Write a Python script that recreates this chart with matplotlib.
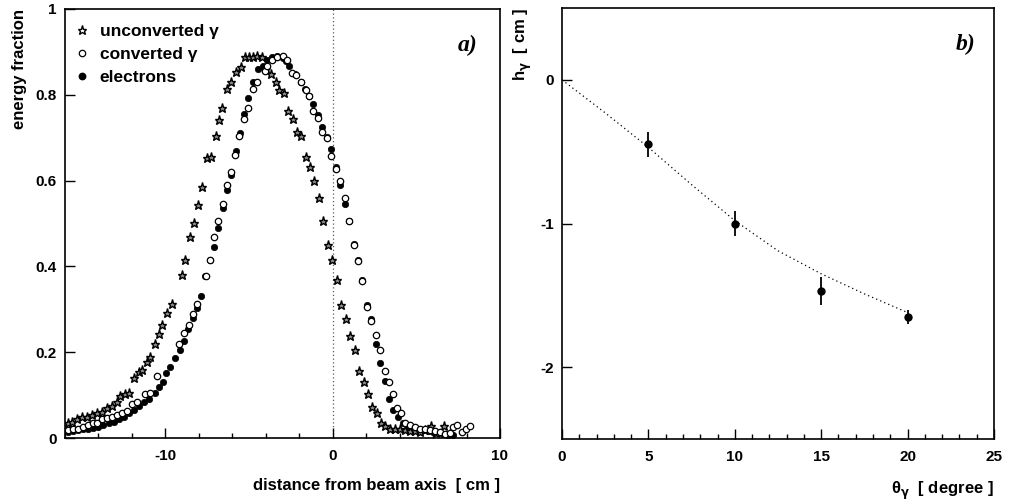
import matplotlib
matplotlib.use("Agg")
import matplotlib.pyplot as plt
from matplotlib.ticker import MultipleLocator, FixedLocator, FuncFormatter
from matplotlib.lines import Line2D

plt.rcParams['font.family'] = ['Liberation Sans', 'DejaVu Sans']
plt.rcParams['font.weight'] = 'bold'
plt.rcParams['axes.unicode_minus'] = False
plt.rcParams['mathtext.default'] = 'bf'

# ---------------- panel a) data ----------------
unconv_x = [-15.8, -15.6, -15.3, -15.0, -14.7, -14.4, -14.1, -13.8, -13.5, -13.2, -12.9, -12.7,
            -12.4, -12.2, -11.9, -11.6, -11.4, -11.1, -10.9, -10.65, -10.36, -10.2, -9.9, -9.6,
            -9.0, -8.8, -8.55, -8.3, -8.08, -7.8, -7.5, -7.3, -7.0, -6.8, -6.6, -6.3, -6.07,
            -5.8, -5.5, -5.24, -5.0, -4.74, -4.5, -4.24, -4.0, -3.7, -3.4, -3.2, -2.9, -2.7,
            -2.4, -2.13, -1.9, -1.6, -1.33, -1.11, -0.82, -0.58, -0.28, -0.04, 0.26, 0.52,
            0.77, 1.05, 1.31, 1.57, 1.85, 2.12, 2.36, 2.64, 2.9, 3.1, 3.4, 3.7, 4.0, 4.3,
            4.6, 4.9, 5.2, 5.5, 5.9, 6.2, 6.67, 7.0]
unconv_y = [0.035, 0.038, 0.044, 0.048, 0.050, 0.054, 0.058, 0.061, 0.071, 0.075, 0.085, 0.099,
            0.102, 0.106, 0.140, 0.155, 0.159, 0.178, 0.188, 0.219, 0.243, 0.264, 0.292, 0.312,
            0.380, 0.415, 0.468, 0.502, 0.543, 0.586, 0.652, 0.656, 0.703, 0.742, 0.769, 0.813, 0.831,
            0.854, 0.864, 0.888, 0.888, 0.888, 0.890, 0.888, 0.860, 0.849, 0.831, 0.812, 0.804, 0.763,
            0.744, 0.714, 0.704, 0.656, 0.631, 0.599, 0.559, 0.505, 0.450, 0.414, 0.368, 0.310,
            0.278, 0.238, 0.205, 0.157, 0.130, 0.103, 0.072, 0.059, 0.034, 0.028, 0.022, 0.020, 0.020, 0.018,
            0.017, 0.016, 0.015, 0.018, 0.028, 0.012, 0.028, 0.010]

conv_x = [-15.8, -15.5, -15.2, -14.9, -14.6, -14.3, -14.1, -13.8, -13.5, -13.2, -12.9, -12.6,
          -12.3, -12.0, -11.7, -11.2, -10.9, -10.5, -9.2, -8.87, -8.6, -8.35, -8.1, -7.56,
          -7.36, -7.08, -6.83, -6.57, -6.33, -6.07, -5.83, -5.58, -5.33, -5.04, -4.78, -4.5,
          -4.05, -3.95, -3.6, -3.3, -3.0, -2.75, -2.46, -2.2, -1.9, -1.6, -1.41, -1.17, -0.87,
          -0.61, -0.34, -0.12, 0.18, 0.42, 0.71, 0.97, 1.25, 1.51, 1.77, 2.04, 2.3, 2.56, 2.8,
          3.1, 3.35, 3.59, 3.85, 4.09, 4.35, 4.6, 4.9, 5.2, 5.5, 5.8, 6.1, 6.4, 6.7, 7.0, 7.2,
          7.4, 7.7, 7.96, 8.2]
conv_y = [0.018, 0.020, 0.022, 0.026, 0.030, 0.036, 0.036, 0.044, 0.046, 0.050, 0.054, 0.058,
          0.064, 0.079, 0.085, 0.102, 0.106, 0.145, 0.219, 0.244, 0.264, 0.290, 0.312, 0.378,
          0.415, 0.468, 0.505, 0.546, 0.589, 0.620, 0.660, 0.703, 0.743, 0.769, 0.813, 0.829,
          0.855, 0.867, 0.882, 0.888, 0.890, 0.882, 0.851, 0.845, 0.830, 0.812, 0.798, 0.763, 0.746,
          0.714, 0.700, 0.658, 0.628, 0.599, 0.559, 0.505, 0.450, 0.412, 0.366, 0.305, 0.272, 0.240, 0.205,
          0.157, 0.131, 0.103, 0.071, 0.058, 0.036, 0.030, 0.025, 0.022, 0.020, 0.018, 0.016, 0.015, 0.010,
          0.012, 0.025, 0.030, 0.015, 0.020, 0.028]

elec_x = [-15.8, -15.5, -15.2, -14.9, -14.6, -14.3, -14.0, -13.7, -13.4, -13.1, -12.8, -12.5,
          -12.2, -11.9, -11.6, -11.3, -11.0, -10.65, -10.36, -10.15, -9.94, -9.7, -9.4, -9.1,
          -8.87, -8.63, -8.35, -8.1, -7.88, -7.62, -7.36, -7.08, -6.83, -6.57, -6.33, -6.07,
          -5.8, -5.54, -5.3, -5.04, -4.74, -4.45, -4.18, -3.9, -3.6, -3.3, -3.0, -2.8, -2.6,
          -2.26, -1.92, -1.67, -1.41, -1.17, -0.87, -0.61, -0.34, -0.08, 0.18, 0.46, 0.71,
          0.97, 1.25, 1.51, 1.77, 2.04, 2.3, 2.6, 2.84, 3.1, 3.35, 3.59, 3.89, 4.19, 4.5,
          4.8, 5.1, 5.4, 5.7, 6.0, 6.3, 6.6, 6.9, 7.2]
elec_y = [0.013, 0.016, 0.018, 0.020, 0.022, 0.024, 0.026, 0.030, 0.034, 0.038, 0.044, 0.050,
          0.058, 0.066, 0.074, 0.084, 0.092, 0.104, 0.118, 0.131, 0.152, 0.166, 0.186, 0.205,
          0.227, 0.254, 0.279, 0.302, 0.331, 0.378, 0.414, 0.445, 0.489, 0.536, 0.578, 0.613,
          0.668, 0.712, 0.756, 0.792, 0.831, 0.860, 0.868, 0.882, 0.888, 0.890, 0.886, 0.878, 0.868,
          0.849, 0.831, 0.813, 0.798, 0.779, 0.753, 0.726, 0.701, 0.673, 0.631, 0.590, 0.546,
          0.505, 0.452, 0.414, 0.368, 0.310, 0.277, 0.220, 0.174, 0.134, 0.092, 0.065, 0.048, 0.034, 0.026,
          0.022, 0.020, 0.018, 0.016, 0.014, 0.012, 0.010, 0.008, 0.006]

legend_labels = ["unconverted \u03b3", "converted \u03b3", "electrons"]

# ---------------- panel b) data ----------------
theta = [5, 10, 15, 20]
h_gamma = [-0.45, -1.00, -1.47, -1.65]
h_err = [0.09, 0.09, 0.10, 0.05]
fit_theta = [0, 2.5, 5, 7.5, 10, 12.5, 15, 17.5, 20]
fit_h = [0.0, -0.23, -0.47, -0.73, -0.98, -1.19, -1.35, -1.49, -1.62]

fig = plt.figure(figsize=(10.1, 5.0), dpi=100)
axa = fig.add_axes([65/1010, 1-438/500, 435/1010, 429/500])
axb = fig.add_axes([562/1010, 1-439/500, 432/1010, 431/500])

for ax in (axa, axb):
    for s in ax.spines.values():
        s.set_linewidth(1.2)
    ax.tick_params(direction='in', which='both', top=False, right=False,
                   labelsize=11, width=1.0)
    ax.tick_params(which='major', length=7)
    ax.tick_params(which='minor', length=3.5)
    ax.tick_params(axis='x', pad=8)
    ax.tick_params(axis='y', pad=6)

# panel a
axa.axvline(0, color='0.35', lw=0.9, ls=(0, (1, 2)), zorder=1)
axa.plot(unconv_x, unconv_y, ls='none', marker='*', ms=6.5, mfc='0.55', mec='black', mew=1.0, zorder=3)
axa.plot(conv_x, conv_y, ls='none', marker='o', ms=4.6, mfc='white', mec='black', mew=0.9, zorder=4)
axa.plot(elec_x, elec_y, ls='none', marker='o', ms=4.6, mfc='black', mec='black', mew=0.5, zorder=2)
axa.set_xlim(-16, 10)
axa.set_ylim(0, 1)
axa.xaxis.set_major_locator(FixedLocator([-10, 0, 10]))
axa.xaxis.set_minor_locator(MultipleLocator(2))
axa.yaxis.set_major_locator(FixedLocator([0, 0.2, 0.4, 0.6, 0.8, 1.0]))
axa.yaxis.set_major_formatter(FuncFormatter(lambda v, p: '%g' % round(v, 2)))
axa.xaxis.set_major_formatter(FuncFormatter(lambda v, p: '%d' % round(v)))
axa.set_xlabel("distance from beam axis  [ cm ]", fontsize=12, fontweight='bold', loc='right', labelpad=11)
axa.set_ylabel("energy fraction", fontsize=12, fontweight='bold', loc='top', labelpad=6)
handles = [Line2D([], [], ls='none', marker='*', ms=6.5, mfc='white', mec='black', mew=1.0),
           Line2D([], [], ls='none', marker='o', ms=4.6, mfc='white', mec='black', mew=0.9),
           Line2D([], [], ls='none', marker='o', ms=4.6, mfc='black', mec='black')]
leg = axa.legend(handles, legend_labels, loc='upper left', frameon=False,
                 prop={'size': 12.5, 'weight': 'bold'}, handlelength=0.8, handletextpad=0.6,
                 labelspacing=0.45, borderaxespad=0.2, bbox_to_anchor=(0.0, 0.99))
axa.text(0.925, 0.915, "a)", transform=axa.transAxes, fontsize=17, fontweight='bold',
         fontstyle='italic', family=['Liberation Serif', 'DejaVu Serif'], ha='center', va='center')

# panel b
axb.plot(fit_theta, fit_h, color='black', lw=0.9, ls=(0, (1, 2.5)), zorder=1)
axb.errorbar(theta, h_gamma, yerr=h_err, fmt='o', ms=5, color='black', mfc='black',
             elinewidth=1.3, capsize=0, zorder=3)
axb.set_xlim(0, 25)
axb.set_ylim(-2.5, 0.5)
axb.xaxis.set_major_locator(MultipleLocator(5))
axb.xaxis.set_minor_locator(MultipleLocator(1))
axb.xaxis.set_major_formatter(FuncFormatter(lambda v, p: '%d' % round(v)))
axb.yaxis.set_major_locator(FixedLocator([-2, -1, 0]))
axb.yaxis.set_major_formatter(FuncFormatter(lambda v, p: '%d' % round(v)))
axb.set_xlabel("\u03b8$_{\\gamma}$  [ degree ]", fontsize=12, fontweight='bold', loc='right', labelpad=11)
axb.set_ylabel("h$_{\\gamma}$  [ cm ]", fontsize=12, fontweight='bold', loc='top', labelpad=4)
axb.text(0.935, 0.915, "b)", transform=axb.transAxes, fontsize=17, fontweight='bold',
         fontstyle='italic', family=['Liberation Serif', 'DejaVu Serif'], ha='center', va='center')

for ax in (axa, axb):
    for lab in ax.get_xticklabels() + ax.get_yticklabels():
        lab.set_fontweight('bold')

fig.savefig("out.png", dpi=100, facecolor='white')
